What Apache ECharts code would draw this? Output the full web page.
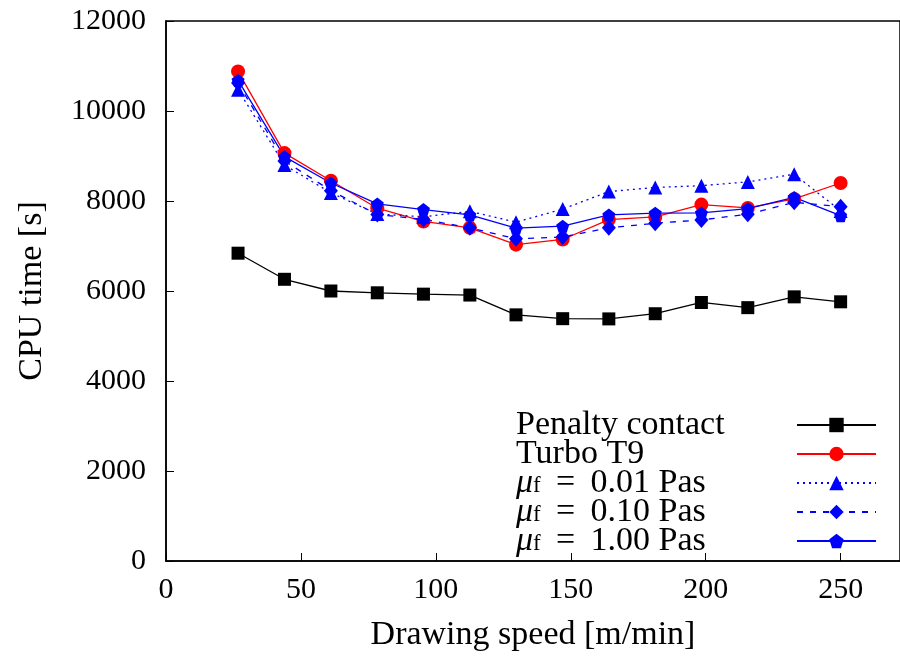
<!DOCTYPE html>
<html>
<head>
<meta charset="utf-8">
<script src="https://cdn.jsdelivr.net/npm/echarts@6/dist/echarts.min.js"></script>
<style>html,body{margin:0;padding:0;background:#fff}#c{width:900px;height:657px}</style>
</head>
<body>
<div id="c"></div>
<script>
// Drawing speed [m/min]
const speeds = [26.7, 43.9, 61.1, 78.3, 95.4, 112.6, 129.7, 147.0, 164.1, 181.3, 198.4, 215.6, 232.8, 250.0];
// CPU time [s]
const penaltyContact = [6840, 6260, 6000, 5960, 5930, 5910, 5470, 5385, 5380, 5495, 5745, 5630, 5870, 5760];
const turboT9 = [10880, 9065, 8450, 7840, 7545, 7405, 7030, 7145, 7585, 7645, 7920, 7845, 8045, 8400];
const mu001 = [10475, 8800, 8180, 7710, 7650, 7770, 7530, 7820, 8210, 8300, 8340, 8425, 8595, 7780];
const mu010 = [10620, 8890, 8230, 7700, 7590, 7405, 7160, 7200, 7405, 7505, 7580, 7705, 7970, 7875];
const mu100 = [10680, 8985, 8400, 7935, 7810, 7690, 7395, 7440, 7690, 7730, 7735, 7830, 8080, 7675];
const xTicks = [0, 50, 100, 150, 200, 250];
const yTicks = [0, 2000, 4000, 6000, 8000, 10000, 12000];

const seriesNames = ['Penalty contact', 'Turbo T9', 'mu001', 'mu010', 'mu100'];
const legendLabels = {
  'Penalty contact': '{t|Penalty contact}',
  'Turbo T9': '{t|Turbo T9}',
  'mu001': '{mu|μ}{sub|f}{t|\u2009 = \u20090.01 Pas}',
  'mu010': '{mu|μ}{sub|f}{t|\u2009 = \u20090.10 Pas}',
  'mu100': '{mu|μ}{sub|f}{t|\u2009 = \u20091.00 Pas}'
};

const FONT = '"Liberation Serif", "DejaVu Serif", serif';
const BLUE = '#0000ff';
const pentagon = 'path://M0,-1 L0.951,-0.309 L0.588,0.809 L-0.588,0.809 L-0.951,-0.309 Z';

function pairs(ys) { return speeds.map((x, i) => [x, ys[i]]); }

const chart = echarts.init(document.getElementById('c'), null, {renderer: 'canvas'});
chart.setOption({
  animation: false,
  backgroundColor: '#fff',
  grid: {
    left: 166, top: 21, right: -3, bottom: 93,
    show: true, borderColor: '#000', borderWidth: 1.5, backgroundColor: 'transparent'
  },
  xAxis: {
    type: 'value', min: 0, max: 272, interval: 50,
    name: 'Drawing speed [m/min]', nameLocation: 'middle', nameGap: 57,
    nameTextStyle: {fontFamily: FONT, fontSize: 34, color: '#000'},
    axisLine: {show: true, lineStyle: {color: '#000', width: 1.5}},
    axisTick: {show: true, inside: true, length: 8, lineStyle: {color: '#000', width: 1}},
    axisLabel: {
      fontFamily: FONT, fontSize: 30, color: '#000', margin: 14, showMaxLabel: false,
      formatter: v => (xTicks.indexOf(v) >= 0 ? String(v) : '')
    },
    splitLine: {show: false}
  },
  yAxis: {
    type: 'value', min: 0, max: 12000, interval: 2000,
    name: 'CPU time [s]', nameLocation: 'middle', nameGap: 117,
    nameTextStyle: {fontFamily: FONT, fontSize: 34, color: '#000'},
    axisLine: {show: true, lineStyle: {color: '#000', width: 1.5}},
    axisTick: {show: true, inside: true, length: 8, lineStyle: {color: '#000', width: 1}},
    axisLabel: {
      fontFamily: FONT, fontSize: 30, color: '#000', margin: 20,
      formatter: v => (yTicks.indexOf(v) >= 0 ? String(v) : '')
    },
    splitLine: {show: false}
  },
  legend: {
    orient: 'vertical', align: 'right',
    left: 511, top: 403,
    itemWidth: 79, itemHeight: 18, itemGap: -5,
    data: seriesNames,
    formatter: name => legendLabels[name],
    textStyle: {
      width: 276, lineHeight: 29.5, fontFamily: FONT, fontSize: 34, color: '#000',
      rich: {
        t: {fontFamily: FONT, fontSize: 34, color: '#000', lineHeight: 29.5, align: 'left'},
        mu: {fontFamily: FONT, fontSize: 34, fontStyle: 'italic', color: '#000', lineHeight: 29.5, align: 'left'},
        sub: {fontFamily: FONT, fontSize: 23, color: '#000', lineHeight: 14, align: 'left', verticalAlign: 'bottom'}
      }
    }
  },
  series: [
    {
      name: 'Penalty contact', type: 'line', data: pairs(penaltyContact),
      symbol: 'rect', symbolSize: 13,
      lineStyle: {color: '#000', width: 1.3}, itemStyle: {color: '#000'}
    },
    {
      name: 'Turbo T9', type: 'line', data: pairs(turboT9),
      symbol: 'circle', symbolSize: 14,
      lineStyle: {color: '#ff0000', width: 1.3}, itemStyle: {color: '#ff0000'}
    },
    {
      name: 'mu001', type: 'line', data: pairs(mu001),
      symbol: 'triangle', symbolSize: 14,
      lineStyle: {color: BLUE, width: 1.3, type: [2, 4]}, itemStyle: {color: BLUE}
    },
    {
      name: 'mu010', type: 'line', data: pairs(mu010),
      symbol: 'diamond', symbolSize: [14, 16],
      lineStyle: {color: BLUE, width: 1.3, type: [6, 7]}, itemStyle: {color: BLUE}
    },
    {
      name: 'mu100', type: 'line', data: pairs(mu100),
      symbol: pentagon, symbolSize: 13,
      lineStyle: {color: BLUE, width: 1.3}, itemStyle: {color: BLUE}
    }
  ]
});
</script>
</body>
</html>
